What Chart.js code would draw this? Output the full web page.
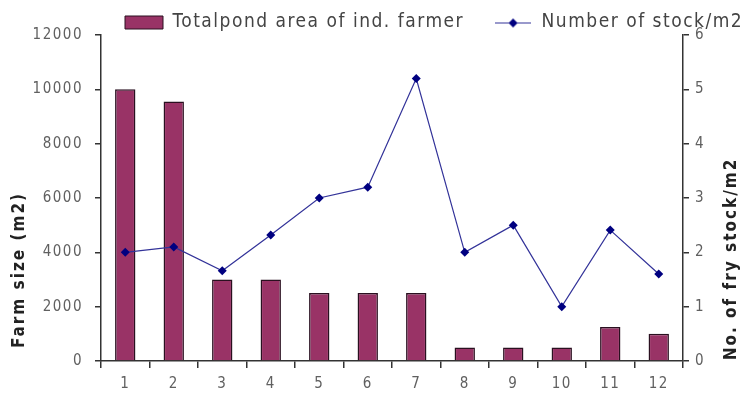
<!DOCTYPE html>
<html>
<head>
<meta charset="utf-8">
<script src="https://cdn.jsdelivr.net/npm/chart.js@4/dist/chart.umd.min.js"></script>
<style>
  html, body { margin: 0; padding: 0; background: #ffffff; }
  #wrap { width: 740px; height: 393px; }
</style>
</head>
<body>
<div id="wrap"><canvas id="chart" width="740" height="393"></canvas></div>
<script>
// Farmers (x categories)
const farmers = ['1', '2', '3', '4', '5', '6', '7', '8', '9', '10', '11', '12'];
// Total pond area per farmer, m2 (left axis)
const pondArea = [10000, 9550, 3000, 3000, 2500, 2500, 2500, 500, 500, 500, 1250, 1000];
// Fry stocked per m2 (right axis)
const stockDensity = [2.0, 2.1, 1.66, 2.32, 3.0, 3.2, 5.2, 2.0, 2.5, 1.0, 2.41, 1.6];
// Axis tick values
const areaTicks = [0, 2000, 4000, 6000, 8000, 10000, 12000];
const densityTicks = [0, 1, 2, 3, 4, 5, 6];

const seriesNames = ['Totalpond area of ind. farmer', 'Number of stock/m2'];
const axisTitles = ['Farm size (m2)', 'No. of fry stock/m2'];

const FAMILY = "'Liberation Sans Narrow', 'DejaVu Sans Condensed', 'Liberation Sans', sans-serif";
const BAR_FILL = '#993366';
const BAR_EDGE = '#2a1020';
const LINE_COLOR = '#333399';
const MARK_COLOR = '#000080';
const AXIS_COLOR = '#333333';
const TICK_TEXT = '#606060';
const SPACING = '1.5px';

// Legend icon for the line series: short line with a diamond marker
function lineIcon() {
  const c = document.createElement('canvas');
  c.width = 36; c.height = 12;
  const g = c.getContext('2d');
  g.strokeStyle = LINE_COLOR; g.lineWidth = 1;
  g.beginPath(); g.moveTo(0, 6.5); g.lineTo(36, 6.5); g.stroke();
  g.fillStyle = MARK_COLOR;
  g.beginPath(); g.moveTo(18, 2); g.lineTo(22.5, 6.5); g.lineTo(18, 11); g.lineTo(13.5, 6.5); g.closePath(); g.fill();
  return c;
}
const legendLine = lineIcon();

const layoutFix = {
  id: 'layoutFix',
  beforeLayout(chart) {
    chart.ctx.letterSpacing = SPACING;
    const lg = chart.legend;
    if (lg && !lg._heightFixed) {
      const fit = lg.fit;
      lg.fit = function () { fit.call(this); this.height = 35; };
      lg._heightFixed = true;
    }
  },
  afterLayout(chart) {
    const lg = chart.legend;
    const pad = lg.options.labels.padding;
    lg.left = 125 - pad;
    lg.right = 900;
    lg.top = 13 - pad;
  },
  beforeDraw(chart) {
    chart.ctx.letterSpacing = SPACING;
  },
  afterDraw(chart) {
    const ctx = chart.ctx;
    ctx.save();
    ctx.letterSpacing = '2px';
    ctx.fillStyle = '#222222';
    ctx.font = 'bold 17px ' + FAMILY;
    ctx.textAlign = 'center';
    ctx.textBaseline = 'middle';
    // left axis title
    ctx.save();
    ctx.translate(20, 270);
    ctx.rotate(-Math.PI / 2);
    ctx.fillText(axisTitles[0], 0, 0);
    ctx.restore();
    // right axis title, read bottom to top
    ctx.save();
    ctx.translate(732, 259);
    ctx.rotate(-Math.PI / 2);
    ctx.fillText(axisTitles[1], 0, 0);
    ctx.restore();
    ctx.restore();
  }
};

const plainNumber = v => String(v);

new Chart(document.getElementById('chart'), {
  data: {
    labels: farmers,
    datasets: [
      {
        type: 'bar',
        label: seriesNames[0],
        data: pondArea,
        yAxisID: 'y',
        backgroundColor: BAR_FILL,
        borderColor: BAR_EDGE,
        borderWidth: 1.5,
        barPercentage: 0.42,
        categoryPercentage: 1,
        order: 2
      },
      {
        type: 'line',
        label: seriesNames[1],
        data: stockDensity,
        yAxisID: 'y1',
        borderColor: LINE_COLOR,
        borderWidth: 1.2,
        pointStyle: 'rectRot',
        pointRadius: 4.5,
        pointBackgroundColor: MARK_COLOR,
        pointBorderColor: MARK_COLOR,
        pointBorderWidth: 0,
        tension: 0,
        fill: false,
        order: 1
      }
    ]
  },
  options: {
    responsive: false,
    animation: false,
    devicePixelRatio: 1,
    layout: { padding: 0 },
    plugins: {
      tooltip: { enabled: false },
      legend: {
        display: true,
        position: 'top',
        align: 'start',
        labels: {
          usePointStyle: true,
          pointStyleWidth: 38,
          boxHeight: 13,
          padding: 30,
          color: '#444444',
          font: { family: FAMILY, size: 19 },
          generateLabels() {
            return [
              { text: seriesNames[0], fillStyle: BAR_FILL, strokeStyle: BAR_EDGE, lineWidth: 1, pointStyle: 'rect', hidden: false, datasetIndex: 0, fontColor: '#444444' },
              { text: seriesNames[1], fillStyle: MARK_COLOR, strokeStyle: MARK_COLOR, lineWidth: 0, pointStyle: legendLine, hidden: false, datasetIndex: 1, fontColor: '#444444' }
            ];
          }
        }
      }
    },
    scales: {
      x: {
        type: 'category',
        offset: true,
        border: { display: true, color: AXIS_COLOR, width: 1.5 },
        grid: { display: true, offset: true, drawOnChartArea: false, drawTicks: true, tickLength: 7, color: AXIS_COLOR, lineWidth: 1.5 },
        ticks: { color: TICK_TEXT, padding: 7, font: { family: FAMILY, size: 15 }, maxRotation: 0, autoSkip: false },
        afterFit(s) { s.height = 32; }
      },
      y: {
        type: 'linear',
        position: 'left',
        min: 0,
        max: 12000,
        afterBuildTicks(s) { s.ticks = areaTicks.map(v => ({ value: v })); },
        border: { display: true, color: AXIS_COLOR, width: 1.5 },
        grid: { display: true, drawOnChartArea: false, drawTicks: true, tickLength: 6, color: AXIS_COLOR, lineWidth: 1.5 },
        ticks: { color: TICK_TEXT, padding: 12, font: { family: FAMILY, size: 15 }, callback: plainNumber },
        afterFit(s) { s.width = 101; }
      },
      y1: {
        type: 'linear',
        position: 'right',
        min: 0,
        max: 6,
        afterBuildTicks(s) { s.ticks = densityTicks.map(v => ({ value: v })); },
        border: { display: true, color: AXIS_COLOR, width: 1.5 },
        grid: { display: true, drawOnChartArea: false, drawTicks: true, tickLength: 6, color: AXIS_COLOR, lineWidth: 1.5 },
        ticks: { color: TICK_TEXT, padding: 6, font: { family: FAMILY, size: 15 }, callback: plainNumber },
        afterFit(s) { s.width = 57; }
      }
    }
  },
  plugins: [layoutFix]
});
</script>
</body>
</html>
